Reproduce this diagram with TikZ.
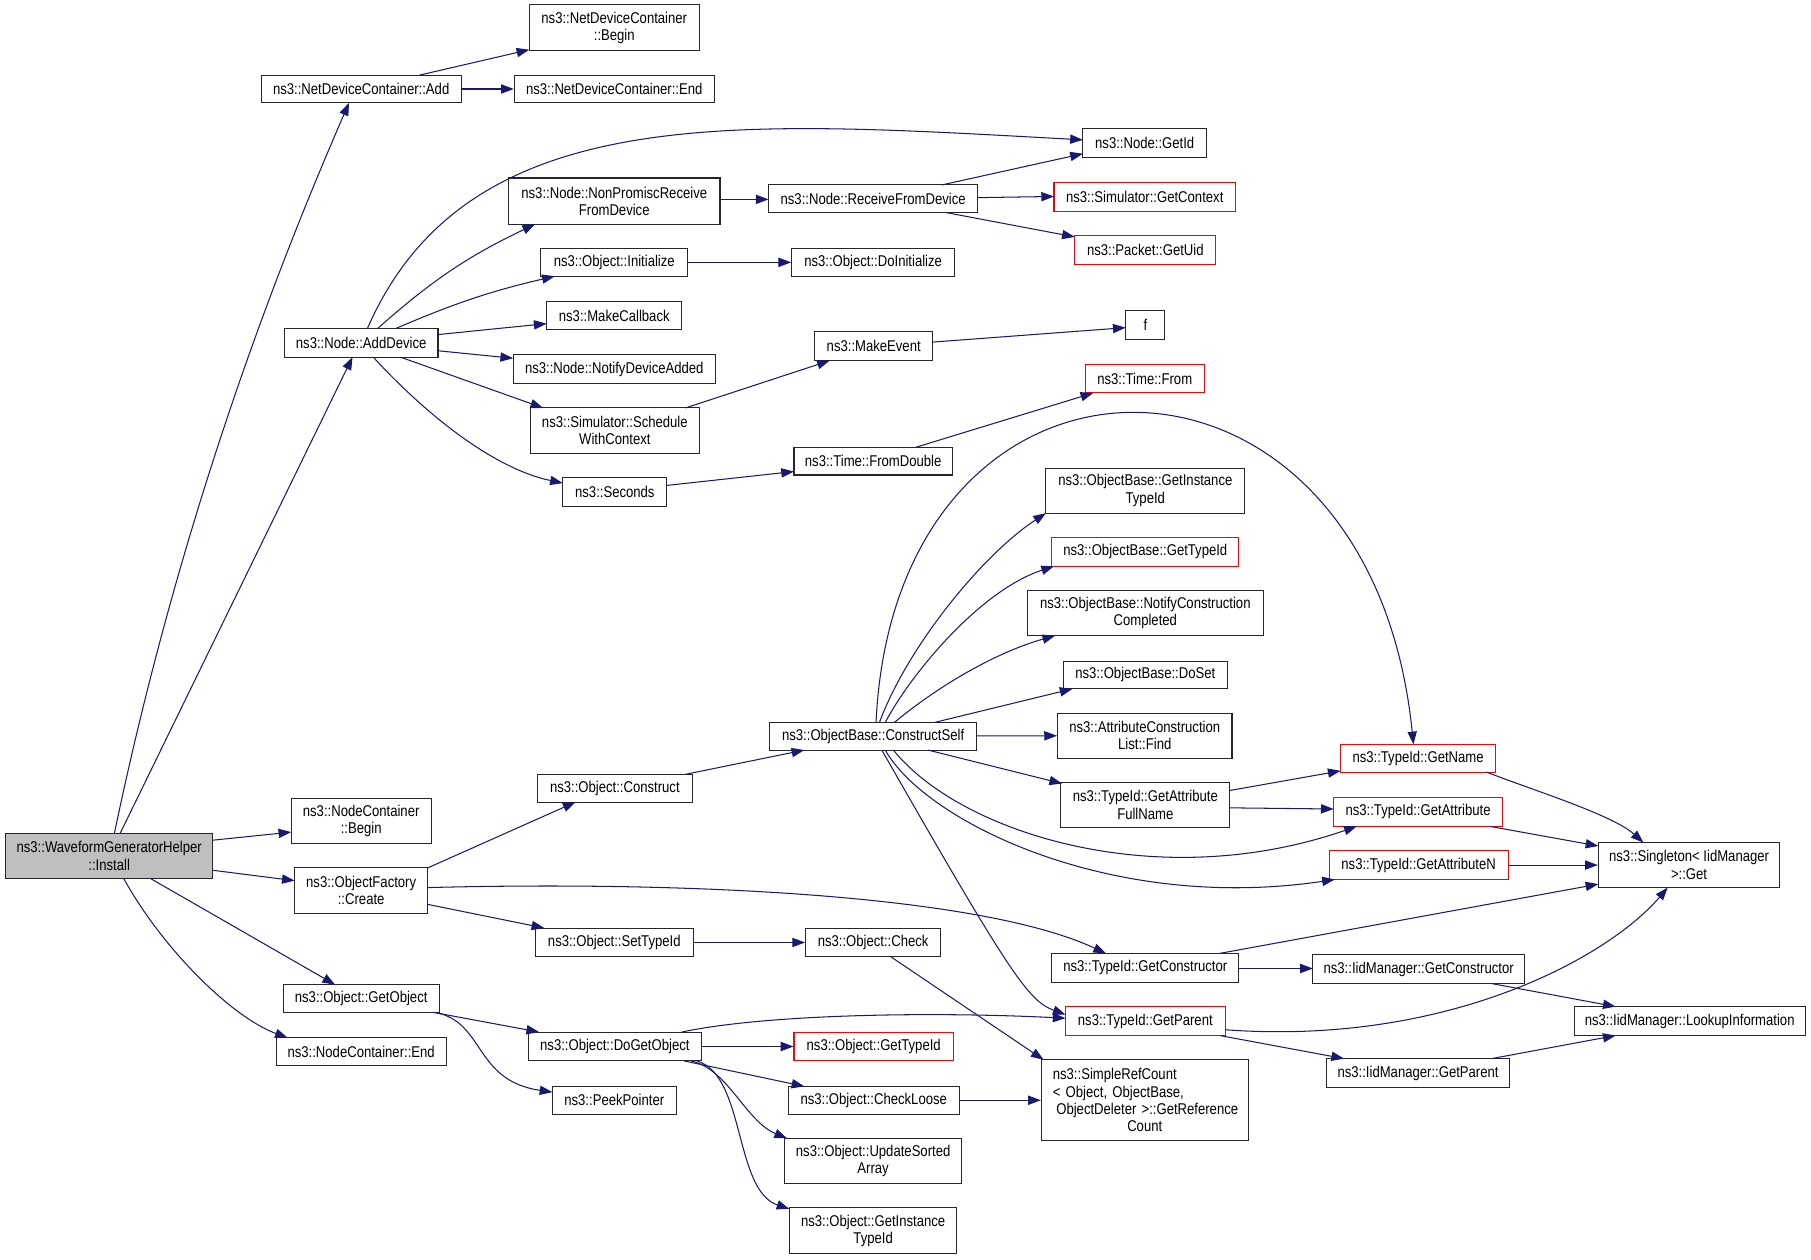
\documentclass[tikz,border=0pt]{standalone}
\usepackage{fontspec}
\setmainfont{Liberation Sans}[FakeStretch=0.84]
\usetikzlibrary{arrows.meta}
\definecolor{edgeblue}{HTML}{191970}
\definecolor{installgray}{HTML}{BFBFBF}
\newcommand\dgfont{\fontsize{13.5}{15}\selectfont}
\tikzset{
  fn/.style={draw=black!85, line width=0.9pt, rectangle, inner sep=0pt, align=center, font=\dgfont, text=black},
  fnred/.style={fn, draw=red},
  call/.style={draw=edgeblue, line width=0.9pt, -{Triangle[length=11pt,width=8pt]}, edgeblue}
}
\begin{document}
\begin{tikzpicture}[x=1pt,y=-1pt]
\fill[white] (0,0) rectangle (1567,1089.4);
\useasboundingbox (0,0) rectangle (1567,1089.4);

% nodes
\node[fn, fill=installgray, minimum width=179pt, minimum height=39pt] (install) at (94.5,740.5) {ns3::WaveformGeneratorHelper\\::Install};
\node[fn, minimum width=173pt, minimum height=24pt] (ndcAdd) at (312.5,77) {ns3::NetDeviceContainer::Add};
\node[fn, minimum width=147pt, minimum height=40pt] (ndcBegin) at (531.5,24) {ns3::NetDeviceContainer\\::Begin};
\node[fn, minimum width=173pt, minimum height=24pt] (ndcEnd) at (531.5,77) {ns3::NetDeviceContainer::End};
\node[fn, minimum width=133pt, minimum height=25pt] (addDevice) at (312.5,296.5) {ns3::Node::AddDevice};
\node[fn, minimum width=183pt, minimum height=40pt] (nonPromisc) at (531.5,174) {ns3::Node::NonPromiscReceive\\FromDevice};
\node[fn, minimum width=181pt, minimum height=24pt] (recv) at (755.5,172) {ns3::Node::ReceiveFromDevice};
\node[fn, minimum width=107pt, minimum height=25pt] (getId) at (990.5,123.5) {ns3::Node::GetId};
\node[fnred, minimum width=157pt, minimum height=25pt] (getContext) at (990.5,170.5) {ns3::Simulator::GetContext};
\node[fnred, minimum width=122pt, minimum height=25pt] (getUid) at (991,216.5) {ns3::Packet::GetUid};
\node[fn, minimum width=127pt, minimum height=24pt] (initialize) at (531.5,227) {ns3::Object::Initialize};
\node[fn, minimum width=141pt, minimum height=24pt] (doInitialize) at (755.5,227) {ns3::Object::DoInitialize};
\node[fn, minimum width=117pt, minimum height=24pt] (makeCallback) at (531.5,273) {ns3::MakeCallback};
\node[fn, minimum width=175pt, minimum height=25pt] (notifyDevAdded) at (531.5,319.5) {ns3::Node::NotifyDeviceAdded};
\node[fn, minimum width=146pt, minimum height=39pt] (schedule) at (532,372.5) {ns3::Simulator::Schedule\\WithContext};
\node[fn, minimum width=102pt, minimum height=25pt] (makeEvent) at (756,299.5) {ns3::MakeEvent};
\node[fn, minimum width=34pt, minimum height=25pt] (f) at (991,281.5) {f};
\node[fnred, minimum width=103pt, minimum height=25pt] (timeFrom) at (990.5,327.5) {ns3::Time::From};
\node[fn, minimum width=90pt, minimum height=25pt] (seconds) at (532,425.5) {ns3::Seconds};
\node[fn, minimum width=137pt, minimum height=24pt] (fromDouble) at (755.5,399) {ns3::Time::FromDouble};
\node[fn, minimum width=172pt, minimum height=39pt] (obGetInstanceTypeId) at (991,424.5) {ns3::ObjectBase::GetInstance\\TypeId};
\node[fnred, minimum width=162pt, minimum height=25pt] (obGetTypeId) at (991,477.5) {ns3::ObjectBase::GetTypeId};
\node[fn, minimum width=204pt, minimum height=39pt] (notifyConstruction) at (991,530.5) {ns3::ObjectBase::NotifyConstruction\\Completed};
\node[fn, minimum width=142pt, minimum height=24pt] (doSet) at (991,584) {ns3::ObjectBase::DoSet};
\node[fn, minimum width=151pt, minimum height=39pt] (attrFind) at (990.5,636.5) {ns3::AttributeConstruction\\List::Find};
\node[fn, minimum width=179pt, minimum height=24pt] (constructSelf) at (755.5,637) {ns3::ObjectBase::ConstructSelf};
\node[fnred, minimum width=134pt, minimum height=24pt] (getName) at (1227,656) {ns3::TypeId::GetName};
\node[fn, minimum width=146pt, minimum height=39pt] (getAttrFullName) at (991,696.5) {ns3::TypeId::GetAttribute\\FullName};
\node[fnred, minimum width=146pt, minimum height=25pt] (getAttribute) at (1227,702.5) {ns3::TypeId::GetAttribute};
\node[fn, minimum width=134pt, minimum height=24pt] (objConstruct) at (532,682) {ns3::Object::Construct};
\node[fn, minimum width=121pt, minimum height=39pt] (ncBegin) at (312.5,710.5) {ns3::NodeContainer\\::Begin};
\node[fn, minimum width=115pt, minimum height=39pt] (ofCreate) at (312.5,770.5) {ns3::ObjectFactory\\::Create};
\node[fnred, minimum width=155pt, minimum height=25pt] (getAttrN) at (1227.5,748.5) {ns3::TypeId::GetAttributeN};
\node[fn, minimum width=157pt, minimum height=39pt] (singleton) at (1461.5,748.5) {ns3::Singleton< IidManager\\>::Get};
\node[fn, minimum width=137pt, minimum height=25pt] (setTypeId) at (531.5,815.5) {ns3::Object::SetTypeId};
\node[fn, minimum width=117pt, minimum height=25pt] (check) at (755.5,815.5) {ns3::Object::Check};
\node[fn, minimum width=162pt, minimum height=25pt] (getConstructor) at (991,837.5) {ns3::TypeId::GetConstructor};
\node[fn, minimum width=183pt, minimum height=25pt] (iidGetConstructor) at (1227.5,838.5) {ns3::IidManager::GetConstructor};
\node[fn, minimum width=135pt, minimum height=24pt] (getObject) at (312.5,864) {ns3::Object::GetObject};
\node[fnred, minimum width=138pt, minimum height=25pt] (getParent) at (991,883.5) {ns3::TypeId::GetParent};
\node[fn, minimum width=200pt, minimum height=25pt] (lookup) at (1462,883.5) {ns3::IidManager::LookupInformation};
\node[fn, minimum width=147pt, minimum height=24pt] (ncEnd) at (312.5,910) {ns3::NodeContainer::End};
\node[fn, minimum width=150pt, minimum height=25pt] (doGetObject) at (532,905.5) {ns3::Object::DoGetObject};
\node[fnred, minimum width=138pt, minimum height=25pt] (objGetTypeId) at (756,905.5) {ns3::Object::GetTypeId};
\node[fn, minimum width=179pt, minimum height=70pt, text width=169pt, align=left] (simpleRef) at (990.5,952) {\hspace*{5pt}ns3::SimpleRefCount\\\hspace*{5pt}< Object, ObjectBase,\\\hspace*{8pt}ObjectDeleter >::GetReference\\\hfill Count\hfill\null};
\node[fn, minimum width=107pt, minimum height=24pt] (peekPointer) at (531.5,952) {ns3::PeekPointer};
\node[fn, minimum width=148pt, minimum height=24pt] (checkLoose) at (756,952) {ns3::Object::CheckLoose};
\node[fn, minimum width=153pt, minimum height=39pt] (updateSorted) at (755.5,1004.5) {ns3::Object::UpdateSorted\\Array};
\node[fn, minimum width=145pt, minimum height=40pt] (objGetInstanceTypeId) at (755.5,1065) {ns3::Object::GetInstance\\TypeId};
\node[fn, minimum width=158pt, minimum height=25pt] (iidGetParent) at (1227,928.5) {ns3::IidManager::GetParent};

% edges from install
\draw[call] ([shift={(4.5,-19.5)}]install.center) .. controls (143,510) and (210,300) .. ([shift={(-10.5,12)}]ndcAdd.center);
\draw[call] ([shift={(9.5,-19.5)}]install.center) -- ([shift={(-7.5,12.5)}]addDevice.center);
\draw[call] ([shift={(89.5,-13.5)}]install.center) -- ([shift={(-60.5,9.5)}]ncBegin.center);
\draw[call] ([shift={(89.5,12.5)}]install.center) -- ([shift={(-57.5,-8.5)}]ofCreate.center);
\draw[call] ([shift={(35.5,19.5)}]install.center) -- ([shift={(-22.5,-12)}]getObject.center);
\draw[call] ([shift={(12.5,19.5)}]install.center) .. controls (140,820) and (200,880) .. ([shift={(-63.5,-12)}]ncEnd.center);

% ndcAdd
\draw[call] ([shift={(50.5,-12)}]ndcAdd.center) -- ([shift={(-73.5,19)}]ndcBegin.center);
\draw[call] (ndcAdd) -- (ndcEnd);

% addDevice
\draw[call] ([shift={(5.5,-12.5)}]addDevice.center) .. controls (405,85) and (640,105) .. ([shift={(-53.5,-2.5)}]getId.center);
\draw[call] ([shift={(14.5,-12.5)}]addDevice.center) to[bend left=8] ([shift={(-68.5,20)}]nonPromisc.center);
\draw[call] ([shift={(30.5,-12.5)}]addDevice.center) to[bend left=5] ([shift={(-51.5,12)}]initialize.center);
\draw[call] ([shift={(66.5,-7)}]addDevice.center) -- ([shift={(-58.5,7)}]makeCallback.center);
\draw[call] ([shift={(66.5,7)}]addDevice.center) -- ([shift={(-87.5,-9.5)}]notifyDevAdded.center);
\draw[call] ([shift={(34,12.5)}]addDevice.center) -- ([shift={(-62,-19.5)}]schedule.center);
\draw[call] ([shift={(10.5,12.5)}]addDevice.center) .. controls (365,355) and (425,405) .. ([shift={(-45,-7.5)}]seconds.center);

% nonPromisc, recv
\draw[call] ([shift={(91.5,-1.5)}]nonPromisc.center) -- ([shift={(-90.5,0.5)}]recv.center);
\draw[call] ([shift={(59.5,-12)}]recv.center) -- ([shift={(-53.5,9.5)}]getId.center);
\draw[call] ([shift={(90.5,-1)}]recv.center) -- ([shift={(-78.5,-0.5)}]getContext.center);
\draw[call] ([shift={(63.5,12)}]recv.center) -- ([shift={(-61,-11.5)}]getUid.center);

% initialize, schedule, makeEvent, seconds, fromDouble
\draw[call] (initialize) -- (doInitialize);
\draw[call] ([shift={(61,-19.5)}]schedule.center) -- ([shift={(-38,12.5)}]makeEvent.center);
\draw[call] ([shift={(51,-3.5)}]makeEvent.center) -- ([shift={(-17,2)}]f.center);
\draw[call] ([shift={(45,-5.5)}]seconds.center) -- ([shift={(-68.5,9)}]fromDouble.center);
\draw[call] ([shift={(37,-12)}]fromDouble.center) -- ([shift={(-44.5,12.5)}]timeFrom.center);

% constructSelf
\draw[call] ([shift={(2.5,-12)}]constructSelf.center) .. controls (775,266) and (1185,266) .. ([shift={(-4,-12)}]getName.center);
\draw[call] ([shift={(5.5,-12)}]constructSelf.center) .. controls (785,560) and (850,480) .. ([shift={(-86,19.5)}]obGetInstanceTypeId.center);
\draw[call] ([shift={(10.5,-12)}]constructSelf.center) .. controls (790,580) and (850,510) .. ([shift={(-79,12.5)}]obGetTypeId.center);
\draw[call] ([shift={(18.5,-12)}]constructSelf.center) .. controls (810,595) and (860,565) .. ([shift={(-78,19.5)}]notifyConstruction.center);
\draw[call] ([shift={(53.5,-12)}]constructSelf.center) -- ([shift={(-63,12)}]doSet.center);
\draw[call] (constructSelf) -- (attrFind);
\draw[call] ([shift={(47.5,12)}]constructSelf.center) -- ([shift={(-72,-18.5)}]getAttrFullName.center);
\draw[call] ([shift={(17.5,12)}]constructSelf.center) .. controls (830,720) and (1000,775) .. ([shift={(-53,12.5)}]getAttribute.center);
\draw[call] ([shift={(10.5,12)}]constructSelf.center) .. controls (800,710) and (960,790) .. ([shift={(-72.5,12.5)}]getAttrN.center);
\draw[call] ([shift={(7.5,12)}]constructSelf.center) .. controls (875,845) and (890,866) .. ([shift={(-69,-5.5)}]getParent.center);

\draw[call] ([shift={(61,-12)}]objConstruct.center) -- ([shift={(-59.5,12)}]constructSelf.center);

% getAttrFullName, getName, getAttribute, getAttrN
\draw[call] ([shift={(73,-12.5)}]getAttrFullName.center) -- ([shift={(-67,11)}]getName.center);
\draw[call] ([shift={(73,2.5)}]getAttrFullName.center) -- ([shift={(-73,-2.5)}]getAttribute.center);
\draw[call] ([shift={(59,12)}]getName.center) .. controls (1330,685) and (1395,705) .. ([shift={(-39.5,-19.5)}]singleton.center);
\draw[call] ([shift={(62,12.5)}]getAttribute.center) -- ([shift={(-78.5,-16.5)}]singleton.center);
\draw[call] (getAttrN) -- (singleton);

% ofCreate
\draw[call] ([shift={(57.5,-19.5)}]ofCreate.center) -- ([shift={(-34,12)}]objConstruct.center);
\draw[call] ([shift={(57.5,12)}]ofCreate.center) -- ([shift={(-60.5,-12.5)}]setTypeId.center);
\draw[call] ([shift={(57.5,-2.5)}]ofCreate.center) .. controls (600,762) and (850,775) .. ([shift={(-34,-12.5)}]getConstructor.center);

% setTypeId, check
\draw[call] (setTypeId) -- (check);
\draw[call] ([shift={(15.5,12.5)}]check.center) -- ([shift={(-87.5,-35)}]simpleRef.center);

% getConstructor, iidGetConstructor
\draw[call] ([shift={(64,-12.5)}]getConstructor.center) -- ([shift={(-78.5,16.5)}]singleton.center);
\draw[call] ([shift={(81,0.5)}]getConstructor.center) -- ([shift={(-91.5,-0.5)}]iidGetConstructor.center);
\draw[call] ([shift={(63,12.5)}]iidGetConstructor.center) -- ([shift={(-64,-12.5)}]lookup.center);

% getObject
\draw[call] ([shift={(62.5,12)}]getObject.center) -- ([shift={(-65.5,-12.5)}]doGetObject.center);
\draw[call] ([shift={(64.5,12)}]getObject.center) .. controls (420,885) and (410,935) .. ([shift={(-53.5,-7)}]peekPointer.center);

% doGetObject
\draw[call] ([shift={(58,-12.5)}]doGetObject.center) .. controls (660,878) and (800,875) .. ([shift={(-69,-2.5)}]getParent.center);
\draw[call] (doGetObject) -- (objGetTypeId);
\draw[call] ([shift={(60,12.5)}]doGetObject.center) -- ([shift={(-60,-12)}]checkLoose.center);
\draw[call] ([shift={(66,12.5)}]doGetObject.center) .. controls (630,925) and (645,970) .. ([shift={(-74.5,-19.5)}]updateSorted.center);
\draw[call] ([shift={(71,12.5)}]doGetObject.center) .. controls (645,930) and (635,1030) .. ([shift={(-72.5,-19)}]objGetInstanceTypeId.center);

% checkLoose
\draw[call] (checkLoose) -- (simpleRef);

% getParent, iidGetParent
\draw[call] ([shift={(69,7.5)}]getParent.center) .. controls (1250,905) and (1390,830) .. ([shift={(-18.5,19.5)}]singleton.center);
\draw[call] ([shift={(64.5,12.5)}]getParent.center) -- ([shift={(-64,-12.5)}]iidGetParent.center);
\draw[call] ([shift={(63.5,-12.5)}]iidGetParent.center) -- ([shift={(-64,12.5)}]lookup.center);
\end{tikzpicture}
\end{document}
